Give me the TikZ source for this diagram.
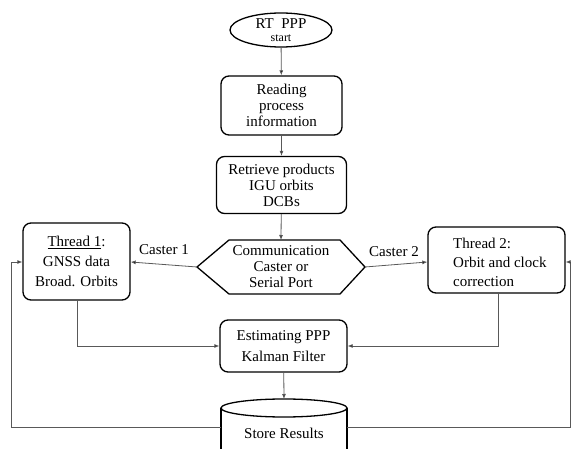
\documentclass[tikz,border=0pt]{standalone}
\usepackage{fontspec}
\setmainfont{Liberation Serif}
\usetikzlibrary{shapes.geometric,arrows.meta}
\begin{document}
\begin{tikzpicture}[x=1pt,y=-1pt,
  box/.style={draw=black,line width=1.3pt,rounded corners=8pt,align=center,inner sep=0pt,font=\fontsize{15}{16}\selectfont},
  conn/.style={draw=black!65,line width=0.8pt},
  arr/.style={conn,-{Latex[length=5pt,width=4pt,fill=black]}},
  lbl/.style={font=\fontsize{15}{16}\selectfont,inner sep=0pt}]
\useasboundingbox (0,0) rectangle (571,449);
\node[draw=black,line width=1.3pt,ellipse,minimum width=102pt,minimum height=34pt,inner sep=0pt] (start) at (281,30) {};
\node[lbl,font=\fontsize{15}{15}\selectfont] (startA) at (281,24) {RT\ \ PPP};
\node[lbl,font=\fontsize{12}{12}\selectfont] (startB) at (281,38) {start};
\node[box,minimum width=121pt,minimum height=59pt] (read) at (281.5,105.5) {Reading\\process\\information};
\node[box,minimum width=130pt,minimum height=57pt] (retr) at (281.5,185) {Retrieve products\\IGU orbits\\DCBs};
\draw[line width=1.3pt,line join=miter] (197,267) -- (229,240) -- (340,240) -- (365,267) -- (340,294) -- (229,294) -- cycle;
\node[lbl,align=center] (comm) at (281,267) {Communication\\Caster or\\Serial Port};
\coordinate (commT) at (281,240);
\coordinate (commL) at (197,267);
\coordinate (commR) at (365,267);
\node[box,minimum width=107pt,minimum height=77pt,font=\fontsize{15}{20}\selectfont] (t1) at (76.5,261.5) {\underline{Thread 1}:\\GNSS data\\Broad. Orbits};
\node[box,minimum width=137pt,minimum height=66pt,font=\fontsize{15}{19}\selectfont] (t2) at (496.5,260) {};
\node[lbl,align=left,font=\fontsize{15}{19}\selectfont,anchor=west] (t2txt) at (453,262) {Thread 2:\\Orbit and clock\\correction};
\node[box,minimum width=127pt,minimum height=52pt,font=\fontsize{15}{21}\selectfont] (est) at (283.5,346) {Estimating PPP\\Kalman Filter};
% cylinder
\draw[line width=1.3pt] (221,408) -- (221,460) (347,408) -- (347,460);
\draw[line width=1.3pt] (284,408) ellipse [x radius=63, y radius=9];
\node[lbl] (store) at (284,433) {Store Results};
\coordinate (storeT) at (284,399);
\coordinate (storeL) at (221,427);
\coordinate (storeR) at (347,427);
% connectors
\draw[arr] (start) -- (read);
\draw[arr] (read) -- (retr);
\draw[arr] (retr) -- (commT);
\draw[arr] (commL) -- (t1.east |- 0,262);
\draw[arr] (commR) -- (t2.west |- 0,262);
\node[lbl] (c1) at (164,250) {Caster 1};
\node[lbl] (c2) at (394,252) {Caster 2};
\draw[arr] (t1.south -| 77,0) |- (est.west);
\draw[arr] (t2.south -| 498,0) |- (est.east);
\draw[arr] (est) -- (storeT);
\draw[arr] (storeL) -| (11,262) -- (t1.west |- 0,262);
\draw[arr] (storeR) -| (570.5,262) -- (t2.east |- 0,262);
\end{tikzpicture}
\end{document}
